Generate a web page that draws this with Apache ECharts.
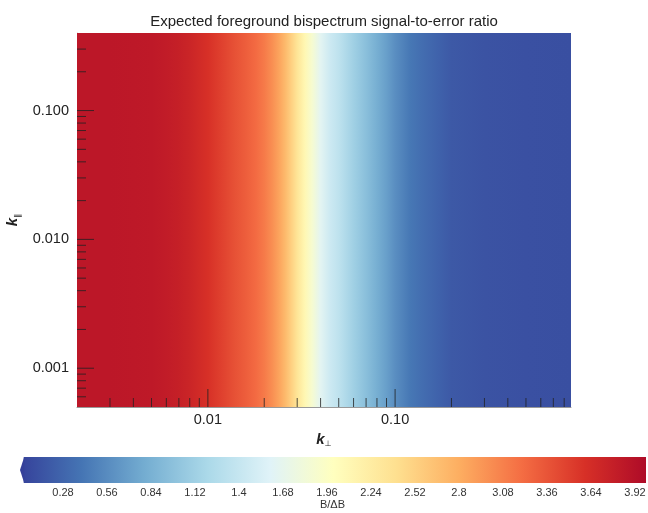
<!DOCTYPE html>
<html><head><meta charset="utf-8">
<script src="https://cdn.jsdelivr.net/npm/echarts@6/dist/echarts.min.js"></script>
<style>html,body{margin:0;padding:0;background:#fff}#c{width:648px;height:513px}</style>
</head><body><div id="c"></div>
<script>
// ---- data ----
const kPerp = [0.002, 0.003, 0.004, 0.005, 0.006, 0.007, 0.008, 0.01, 0.012, 0.014, 0.016, 0.018, 0.02, 0.022, 0.024, 0.026, 0.028, 0.03, 0.033, 0.036, 0.04, 0.045, 0.05, 0.06, 0.07, 0.08, 0.09, 0.1, 0.12, 0.14, 0.17, 0.2, 0.3, 0.5, 0.87];
const ratio = [3.86, 3.86, 3.85, 3.84, 3.81, 3.77, 3.72, 3.60, 3.48, 3.38, 3.30, 3.22, 3.12, 3.00, 2.86, 2.70, 2.52, 2.34, 2.10, 1.88, 1.64, 1.45, 1.34, 1.12, 0.96, 0.82, 0.70, 0.58, 0.42, 0.34, 0.26, 0.19, 0.14, 0.12, 0.11];
const xMajorTicks = [0.01, 0.1];
const xMinorTicks = [0.003, 0.004, 0.005, 0.006, 0.007, 0.008, 0.009, 0.02, 0.03, 0.04, 0.05, 0.06, 0.07, 0.08, 0.09, 0.2, 0.3, 0.4, 0.5, 0.6, 0.7, 0.8];
const yMajorTicks = [0.001, 0.01, 0.1];
const yMinorTicks = [0.0006, 0.0007, 0.0008, 0.0009, 0.002, 0.003, 0.004, 0.005, 0.006, 0.007, 0.008, 0.009, 0.02, 0.03, 0.04, 0.05, 0.06, 0.07, 0.08, 0.09, 0.2, 0.3];
const cbTickStep = 0.28;
const X_MIN = 0.002, X_MAX = 0.87, Y_MIN = 0.0005, Y_MAX = 0.4;
const CB_MIN = 0, CB_MAX = 4, CB_AXIS_MAX = 3.99, CB_BAR_START = 0.03;
const palette = ['#35409a','#4575b4','#74add1','#abd9e9','#e0f3f8','#ffffbf','#fee090','#fdae61','#f46d43','#d73027','#ad0a28'];

const FONT = '"Liberation Sans", Arial, Helvetica, sans-serif';
const chart = echarts.init(document.getElementById('c'), null, {renderer: 'canvas'});

function isDecade(v) { const l = Math.log10(v); return Math.abs(l - Math.round(l)) < 1e-6; }

const strips = kPerp.map((k, i) => [k, ratio[i]]);

const option = {
  animation: false,
  backgroundColor: '#fff',
  title: {
    text: 'Expected foreground bispectrum signal-to-error ratio',
    left: 'center', top: 9,
    textStyle: {fontFamily: FONT, fontSize: 15, fontWeight: 'normal', color: '#222'}
  },
  grid: [
    {left: 77, right: 77, top: 33, bottom: 106, outerBoundsMode: 'none', containLabel: false},
    {left: 19, right: 2, top: 457, height: 26, outerBoundsMode: 'none', containLabel: false}
  ],
  visualMap: {
    show: false, type: 'continuous', seriesIndex: 0, dimension: 1,
    min: CB_MIN, max: CB_MAX, inRange: {color: palette}
  },
  xAxis: [
    {
      type: 'log', logBase: 10, gridIndex: 0, min: X_MIN, max: X_MAX,
      axisLine: {show: true, lineStyle: {color: '#999', width: 1}},
      axisTick: {show: false}, splitLine: {show: false}, minorTick: {show: false},
      axisLabel: {interval: 0, margin: 5, fontFamily: FONT, fontSize: 14.5, color: '#222',
        formatter: v => isDecade(v) ? v.toFixed(2) : ''},
      name: '{k|k}{s|⊥}', nameLocation: 'middle', nameGap: 14,
      nameTextStyle: {rich: {
        k: {fontFamily: FONT, fontSize: 15, fontStyle: 'italic', fontWeight: 'bold', color: '#222', lineHeight: 18},
        s: {fontFamily: 'DejaVu Sans', fontSize: 8, color: '#222', verticalAlign: 'bottom', lineHeight: 9}
      }}
    },
    {
      type: 'value', gridIndex: 1, min: CB_MIN, max: CB_AXIS_MAX, interval: cbTickStep,
      axisLine: {show: false}, axisTick: {show: false}, splitLine: {show: false},
      axisLabel: {interval: 0, margin: 4, fontFamily: FONT, fontSize: 11, color: '#333',
        showMinLabel: true, showMaxLabel: true,
        formatter: v => {
          const q = v / cbTickStep;
          if (v <= 0 || Math.abs(q - Math.round(q)) > 1e-6) return '';
          return String(+(Math.round(q) * cbTickStep).toFixed(2));
        }},
      name: 'B/ΔB', nameLocation: 'middle', nameGap: 16,
      nameTextStyle: {fontFamily: FONT, fontSize: 11, color: '#333'}
    }
  ],
  yAxis: [
    {
      type: 'log', logBase: 10, gridIndex: 0, min: Y_MIN, max: Y_MAX,
      axisLine: {show: true, lineStyle: {color: '#ccc', width: 1}},
      axisTick: {show: false}, splitLine: {show: false}, minorTick: {show: false},
      axisLabel: {interval: 0, margin: 8, fontFamily: FONT, fontSize: 14.5, color: '#222',
        formatter: v => isDecade(v) ? v.toFixed(3) : ''},
      name: '{k|k}{s|∥}', nameLocation: 'middle', nameGap: 47,
      nameTextStyle: {rich: {
        k: {fontFamily: FONT, fontSize: 15, fontStyle: 'italic', fontWeight: 'bold', color: '#222', lineHeight: 18},
        s: {fontFamily: 'DejaVu Sans', fontSize: 8, color: '#222', verticalAlign: 'bottom', lineHeight: 9}
      }}
    },
    {type: 'value', gridIndex: 1, min: 0, max: 1, show: false}
  ],
  series: [
    {
      type: 'custom', xAxisIndex: 0, yAxisIndex: 0, silent: true,
      data: strips, encode: {x: 0, y: 1},
      renderItem: (params, api) => {
        if (params.dataIndex !== 0) return null;
        const p0 = api.coord([X_MIN, Y_MAX]);
        const p1 = api.coord([X_MAX, Y_MIN]);
        const w = p1[0] - p0[0];
        const stops = kPerp.map((k, i) => ({
          offset: Math.min(1, Math.max(0, (api.coord([k, Y_MIN])[0] - p0[0]) / w)),
          color: api.visual('color', i)
        }));
        return {
          type: 'rect',
          shape: {x: p0[0], y: p0[1], width: w, height: p1[1] - p0[1]},
          style: {fill: new echarts.graphic.LinearGradient(0, 0, 1, 0, stops)}
        };
      }
    },
    {
      type: 'custom', xAxisIndex: 0, yAxisIndex: 0, silent: true, z: 5,
      data: xMajorTicks.map(v => [v, Y_MIN, 1]).concat(xMinorTicks.map(v => [v, Y_MIN, 0])),
      encode: {x: 0, y: 1},
      renderItem: (params, api) => {
        const p = api.coord([api.value(0), Y_MIN]);
        const len = api.value(2) ? 18 : 9;
        return {type: 'line', shape: {x1: p[0], y1: p[1], x2: p[0], y2: p[1] - len},
          style: {stroke: '#222', lineWidth: 1, opacity: 0.8}};
      }
    },
    {
      type: 'custom', xAxisIndex: 0, yAxisIndex: 0, silent: true, z: 5,
      data: yMajorTicks.map(v => [X_MIN, v, 1]).concat(yMinorTicks.map(v => [X_MIN, v, 0])),
      encode: {x: 0, y: 1},
      renderItem: (params, api) => {
        const p = api.coord([X_MIN, api.value(1)]);
        const len = api.value(2) ? 17 : 9;
        return {type: 'line', shape: {x1: p[0], y1: p[1], x2: p[0] + len, y2: p[1]},
          style: {stroke: '#222', lineWidth: 1, opacity: 0.8}};
      }
    },
    {
      type: 'custom', xAxisIndex: 1, yAxisIndex: 1, silent: true,
      data: [[CB_MIN, 0]], encode: {x: 0, y: 1},
      renderItem: (params, api) => {
        const a = api.coord([CB_MIN, 0]);
        const b = api.coord([CB_BAR_START, 1]);
        const e = api.coord([CB_AXIS_MAX, 1]);
        const g0 = api.coord([CB_MIN, 0])[0], g1 = api.coord([CB_MAX, 0])[0];
        const stops = palette.map((c, j) => ({offset: j / (palette.length - 1), color: c}));
        const grad = new echarts.graphic.LinearGradient(g0, 0, g1, 0, stops, true);
        const top = b[1], bot = a[1], mid = (top + bot) / 2;
        return {type: 'group', children: [
          {type: 'rect', shape: {x: b[0], y: top, width: e[0] - b[0], height: bot - top}, style: {fill: grad}},
          {type: 'polygon', shape: {points: [[a[0] + 1, mid], [b[0] + 0.5, top], [b[0] + 0.5, bot]]}, style: {fill: palette[0]}}
        ]};
      }
    }
  ]
};
chart.setOption(option);
</script>
</body></html>
